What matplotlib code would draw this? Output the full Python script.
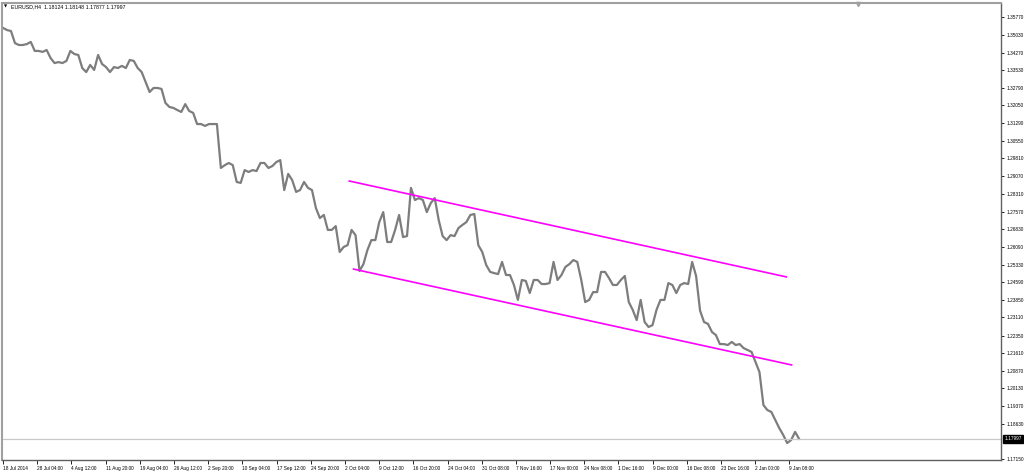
#!/usr/bin/python3
# EURUSD H4 chart with a falling channel, MT4 look

import numpy as np
import matplotlib
matplotlib.use("Agg")
import matplotlib.pyplot as plt

# price path, one value per ~4 H4 bars
closes = [
    1.3531, 1.3522, 1.3518, 1.3467, 1.3459, 1.3459, 1.3463, 1.3472, 1.3434, 1.3434,
    1.3430, 1.3438, 1.3404, 1.3383, 1.3387, 1.3383, 1.3392, 1.3434, 1.3421, 1.3417,
    1.3362, 1.3345, 1.3375, 1.3354, 1.3417, 1.3379, 1.3366, 1.3345, 1.3366, 1.3362,
    1.3371, 1.3362, 1.3396, 1.3392, 1.3362, 1.3345, 1.3303, 1.3261, 1.3278, 1.3278,
    1.3274, 1.3215, 1.3198, 1.3194, 1.3185, 1.3177, 1.3210, 1.3181, 1.3173, 1.3126,
    1.3126, 1.3118, 1.3126, 1.3126, 1.3126, 1.2941, 1.2953, 1.2962, 1.2953, 1.2882,
    1.2878, 1.2932, 1.2924, 1.2932, 1.2928, 1.2962, 1.2962, 1.2941, 1.2949, 1.2966,
    1.2974, 1.2848, 1.2916, 1.2890, 1.2840, 1.2848, 1.2882, 1.2857, 1.2848, 1.2772,
    1.2730, 1.2743, 1.2680, 1.2680, 1.2696, 1.2587, 1.2608, 1.2616, 1.2680, 1.2658,
    1.2507, 1.2536, 1.2595, 1.2637, 1.2637, 1.2713, 1.2755, 1.2629, 1.2629, 1.2680,
    1.2743, 1.2650, 1.2654, 1.2857, 1.2806, 1.2814, 1.2806, 1.2755, 1.2793, 1.2814,
    1.2722, 1.2654, 1.2637, 1.2658, 1.2654, 1.2688, 1.2701, 1.2713, 1.2743, 1.2747,
    1.2616, 1.2587, 1.2532, 1.2503, 1.2498, 1.2494, 1.2545, 1.2490, 1.2490, 1.2448,
    1.2385, 1.2469, 1.2465, 1.2414, 1.2469, 1.2469, 1.2452, 1.2452, 1.2456, 1.2545,
    1.2469, 1.2490, 1.2524, 1.2536, 1.2553, 1.2545, 1.2469, 1.2376, 1.2385, 1.2418,
    1.2418, 1.2503, 1.2503, 1.2477, 1.2448, 1.2448, 1.2469, 1.2486, 1.2376, 1.2343,
    1.2300, 1.2385, 1.2292, 1.2271, 1.2279, 1.2343, 1.2385, 1.2385, 1.2456, 1.2448,
    1.2414, 1.2448, 1.2456, 1.2452, 1.2545, 1.2486, 1.2340, 1.2292, 1.2284, 1.2250,
    1.2237, 1.2199, 1.2199, 1.2195, 1.2208, 1.2195, 1.2199, 1.2182, 1.2174, 1.2166,
    1.2123, 1.2081, 1.1942, 1.1921, 1.1913, 1.1879, 1.1845, 1.1816, 1.1782, 1.1795,
    1.1829, 1.17997,
]
n_bars = 745  # H4 bars on screen

# channel lines: (bar, price) anchors
upper_line = [(324, 1.2886), (733, 1.2482)]
lower_line = [(328, 1.2515), (738, 1.2111)]

last_price = 1.17997
header = "EURUSD,H4  1.18124 1.18148 1.17877 1.17997"

price_ticks = [1.35770, 1.35030, 1.34270, 1.33530, 1.32790, 1.32050, 1.31290,
               1.30550, 1.29810, 1.29070, 1.28310, 1.27570, 1.26830, 1.26090,
               1.25330, 1.24590, 1.23850, 1.23110, 1.22350, 1.21610, 1.20870,
               1.20130, 1.19370, 1.18630, 1.17150]

time_labels = ["18 Jul 2014", "28 Jul 04:00", "4 Aug 12:00", "11 Aug 20:00",
               "19 Aug 04:00", "26 Aug 12:00", "2 Sep 20:00", "10 Sep 04:00",
               "17 Sep 12:00", "24 Sep 20:00", "2 Oct 04:00", "9 Oct 12:00",
               "16 Oct 20:00", "24 Oct 04:00", "31 Oct 08:00", "7 Nov 16:00",
               "17 Nov 00:00", "24 Nov 08:00", "1 Dec 16:00", "9 Dec 00:00",
               "16 Dec 08:00", "23 Dec 16:00", "2 Jan 00:00", "9 Jan 08:00"]
label_step = 32  # bars between time labels

plt.rcParams['font.family'] = ['Liberation Sans', 'DejaVu Sans']

fig = plt.figure(figsize=(10.24, 4.72), dpi=100)
ax = fig.add_axes([2 / 1024, 12 / 472, 999 / 1024, 457 / 472])

x = np.linspace(0, n_bars, len(closes))
ax.plot(x, closes, color="#7d7d7d", lw=1.6)

for line in (upper_line, lower_line):
    ax.plot([p[0] for p in line], [p[1] for p in line], color="#ff00ff", lw=1.2)

ax.axhline(last_price, color="#c8c8c8", lw=0.9)

ax.set_xlim(-1, 934)
ax.set_ylim(1.17106, 1.36360)

# right price scale
ax.yaxis.tick_right()
ax.set_yticks(price_ticks)
ax.set_yticklabels(["%.5f" % v for v in price_ticks])
ax.tick_params(axis="y", direction="out", length=2.5, width=0.6, pad=1.5,
               labelsize=3.4, colors="black")

xt = [i * label_step for i in range(len(time_labels))]
ax.set_xticks(xt)
ax.set_xticklabels(time_labels, ha="left")
ax.tick_params(axis="x", direction="out", length=3, width=0.6, pad=1,
               labelsize=3.4, colors="black")

for side in ("left", "top"):
    ax.spines[side].set_color("#a0a0a0")
    ax.spines[side].set_linewidth(1.5)
for side in ("right", "bottom"):
    ax.spines[side].set_color("#606060")
    ax.spines[side].set_linewidth(1.0)

# last price tag on the scale
ax.annotate("%.5f" % last_price, xy=(1.0, last_price), xycoords=("axes fraction", "data"),
            xytext=(2.5, 0), textcoords="offset points", va="center", ha="left",
            fontsize=3.4, color="white",
            bbox=dict(boxstyle="square,pad=0.25", fc="black", ec="black"))

fig.text(4 / 1024, 1 - 7 / 472, "\u25bc", fontsize=3, color="black", va="center",
         family="DejaVu Sans")
fig.text(11 / 1024, 1 - 7 / 472, header, fontsize=3.8, color="black", va="center")

# chart shift marker
ax.plot([n_bars + 55], [1.36330], marker="v", ms=3, color="#a0a0a0", clip_on=False)

fig.savefig("out.png", dpi=100, facecolor="white")
